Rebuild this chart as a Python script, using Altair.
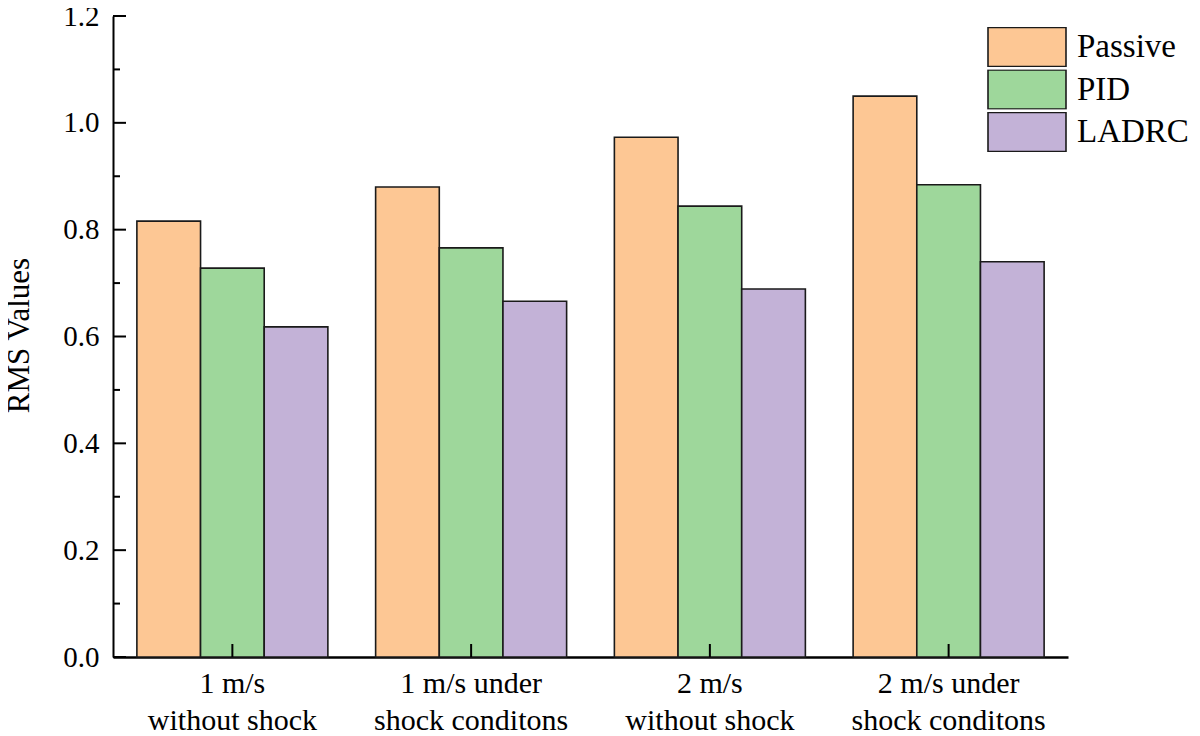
import altair as alt
import pandas as pd

groups = ["1 m/s\nwithout shock", "1 m/s under\nshock conditons",
          "2 m/s\nwithout shock", "2 m/s under\nshock conditons"]
series = ["Passive", "PID", "LADRC"]
passive = [0.816, 0.880, 0.973, 1.050]
pid = [0.728, 0.766, 0.844, 0.884]
ladrc = [0.618, 0.666, 0.689, 0.740]
colors = ["#FDC794", "#9ED79B", "#C3B2D7"]
major_ticks = [0.0, 0.2, 0.4, 0.6, 0.8, 1.0, 1.2]
minor_ticks = [0.1, 0.3, 0.5, 0.7, 0.9, 1.1]

rows = []
for s, vals in zip(series, [passive, pid, ladrc]):
    for g, v in zip(groups, vals):
        rows.append({"group": g, "series": s, "value": v})
df = pd.DataFrame(rows)

FONT = "Liberation Serif"
W, H = 955, 641

xscale = alt.Scale(domain=groups, paddingInner=0.2, paddingOuter=0.1)
yscale = alt.Scale(domain=[0, 1.2], nice=False)

xaxis = alt.Axis(title=None, labelExpr="split(datum.label, '\\n')",
                 labelFont=FONT, labelFontSize=30, labelColor="black",
                 labelLineHeight=37, labelPadding=11, labelAngle=0,
                 labelLimit=400, domainWidth=2.5)
yaxis = alt.Axis(title="RMS Values", values=major_ticks, format=".1f",
                 labelFont=FONT, labelFontSize=29, labelColor="black",
                 titleFont=FONT, titleFontSize=31,
                 labelPadding=14, domainWidth=2,
                 titleX=-85, titleY=319,
                 titleAlign="center", titleBaseline="alphabetic",
                 titleAngle=270)

bars = alt.Chart(df).mark_bar(stroke="#1a1a1a", strokeWidth=1.6).encode(
    x=alt.X("group:N", scale=xscale, sort=groups, axis=xaxis),
    xOffset=alt.XOffset("series:N", sort=series,
                        scale=alt.Scale(paddingInner=0, paddingOuter=0)),
    y=alt.Y("value:Q", scale=yscale, axis=yaxis),
    color=alt.Color("series:N", sort=series,
                    scale=alt.Scale(domain=series, range=colors),
                    legend=alt.Legend(title=None, orient="none", legendX=874,
                                      legendY=11,
                                      symbolType="M-1,-0.5H1V0.5H-1Z",
                                      symbolSize=6084, symbolStrokeColor="#1a1a1a",
                                      symbolStrokeWidth=1.6, symbolOpacity=1,
                                      clipHeight=40, rowPadding=2.5,
                                      labelFont=FONT, labelFontSize=33,
                                      labelColor="black", labelOffset=10)),
)

major = alt.Chart(pd.DataFrame({"value": major_ticks})).mark_rule(
    color="black", strokeWidth=2).encode(
    y=alt.Y("value:Q", scale=yscale),
    x=alt.value(0), x2=alt.value(13))

minor = alt.Chart(pd.DataFrame({"value": minor_ticks})).mark_rule(
    color="black", strokeWidth=2).encode(
    y=alt.Y("value:Q", scale=yscale),
    x=alt.value(0), x2=alt.value(7))

xticks = alt.Chart(pd.DataFrame({"group": groups})).mark_rule(
    color="black", strokeWidth=2).encode(
    x=alt.X("group:N", scale=xscale, sort=groups),
    y=alt.value(H - 13), y2=alt.value(H))

chart = alt.layer(bars, major, minor, xticks).properties(
    width=W, height=H,
    autosize=alt.AutoSizeParams(type="none"),
    padding={"left": 105, "top": 8, "right": 124, "bottom": 79},
    background="white",
).configure(font=FONT).configure_view(stroke=None).configure_axis(
    labelFont=FONT, labelFontSize=30, labelColor="black",
    titleFont=FONT, titleFontSize=31, titleFontWeight="normal",
    titleColor="black", ticks=False, tickSize=0, grid=False,
    domainColor="black",
)

chart.save("out.html", embed_options={"renderer": "svg", "actions": False})
